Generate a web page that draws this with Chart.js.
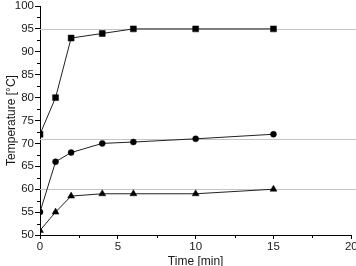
<!DOCTYPE html>
<html>
<head>
<meta charset="utf-8">
<script src="https://cdn.jsdelivr.net/npm/chart.js@4"></script>
<style>
html,body{margin:0;padding:0;background:#fff;}
#wrap{width:356px;height:266px;}
</style>
</head>
<body>
<div id="wrap"><canvas id="c" width="356" height="266"></canvas></div>
<script>
const timeMin = [0, 1, 2, 4, 6, 10, 15];
const seriesSquare = [72, 80, 93, 94, 95, 95, 95];
const seriesCircle = [55, 66, 68, 70, 70.3, 71, 72];
const seriesTriangle = [51, 55, 58.5, 59, 59, 59, 60];
const referenceLevels = [95, 71, 60];
const xTicks = [0, 5, 10, 15, 20];
const yTicks = [50, 55, 60, 65, 70, 75, 80, 85, 90, 95, 100];

function pts(ys){ return timeMin.map((x,i)=>({x:x,y:ys[i]})); }

const refLines = {
  id:'refLines',
  beforeDatasetsDraw(chart){
    const ctx = chart.ctx, ys = chart.scales.y, a = chart.chartArea;
    ctx.save();
    ctx.strokeStyle = '#c4c4c4';
    ctx.lineWidth = 1;
    referenceLevels.forEach(v=>{
      const py = Math.round(ys.getPixelForValue(v)) + 0.5;
      ctx.beginPath();
      ctx.moveTo(a.left, py);
      ctx.lineTo(chart.width, py);
      ctx.stroke();
    });
    ctx.restore();
  }
};

const minorTicks = {
  id:'minorTicks',
  afterDraw(chart){
    const ctx = chart.ctx, xs = chart.scales.x, ys = chart.scales.y, a = chart.chartArea;
    ctx.save();
    ctx.strokeStyle = '#000';
    ctx.lineWidth = 1;
    for (let i=0;i<xTicks.length-1;i++){
      const v = (xTicks[i]+xTicks[i+1])/2;
      const px = Math.round(xs.getPixelForValue(v)) + 0.5;
      ctx.beginPath(); ctx.moveTo(px, a.bottom); ctx.lineTo(px, a.bottom+3); ctx.stroke();
    }
    for (let i=0;i<yTicks.length-1;i++){
      const v = (yTicks[i]+yTicks[i+1])/2;
      const py = Math.round(ys.getPixelForValue(v)) + 0.5;
      ctx.beginPath(); ctx.moveTo(a.left, py); ctx.lineTo(a.left-3, py); ctx.stroke();
    }
    ctx.restore();
  }
};

const tickFont = {family:'"Liberation Sans", Arial, sans-serif', size:11.5};
const titleFont = {family:'"Liberation Sans", Arial, sans-serif', size:12};

new Chart(document.getElementById('c'), {
  type:'line',
  data:{
    datasets:[
      {data:pts(seriesSquare), pointStyle:'rect', pointRadius:4.2, borderColor:'#222', backgroundColor:'#000', pointBorderColor:'#000', borderWidth:1, pointBorderWidth:0.5},
      {data:pts(seriesCircle), pointStyle:'circle', pointRadius:3, borderColor:'#222', backgroundColor:'#000', pointBorderColor:'#000', borderWidth:1, pointBorderWidth:0.5},
      {data:pts(seriesTriangle), pointStyle:'triangle', pointRadius:4, borderColor:'#222', backgroundColor:'#000', pointBorderColor:'#000', borderWidth:1, pointBorderWidth:0.5}
    ]
  },
  options:{
    responsive:false,
    animation:false,
    devicePixelRatio:1,
    layout:{padding:{top:6,right:4,left:0,bottom:0}},
    plugins:{legend:{display:false}, tooltip:{enabled:false}},
    elements:{line:{tension:0}},
    scales:{
      x:{
        type:'linear', min:0, max:20,
        afterBuildTicks(s){ s.ticks = xTicks.map(v=>({value:v})); },
        afterFit(s){ s.height = 31; s.paddingLeft = 0; s.paddingRight = 0; },
        grid:{display:true, drawOnChartArea:false, drawTicks:true, tickLength:4, color:'#000'},
        border:{display:true, color:'#000', width:1},
        ticks:{font:tickFont, color:'#1a1a1a', padding:1, maxRotation:0, autoSkip:false},
        title:{display:true, text:'Time [min]', font:titleFont, color:'#1a1a1a', padding:{top:0,bottom:-3}}
      },
      y:{
        type:'linear', min:50, max:100,
        afterBuildTicks(s){ s.ticks = yTicks.map(v=>({value:v})); },
        afterFit(s){ s.width = 40; s.paddingTop = 0; s.paddingBottom = 0; },
        grid:{display:true, drawOnChartArea:false, drawTicks:true, tickLength:5, color:'#000'},
        border:{display:true, color:'#000', width:1},
        ticks:{font:tickFont, color:'#1a1a1a', padding:1, autoSkip:false},
        title:{display:true, text:'Temperature [°C]', font:titleFont, color:'#1a1a1a', padding:{top:4,bottom:0}}
      }
    }
  },
  plugins:[refLines, minorTicks]
});
</script>
</body>
</html>
